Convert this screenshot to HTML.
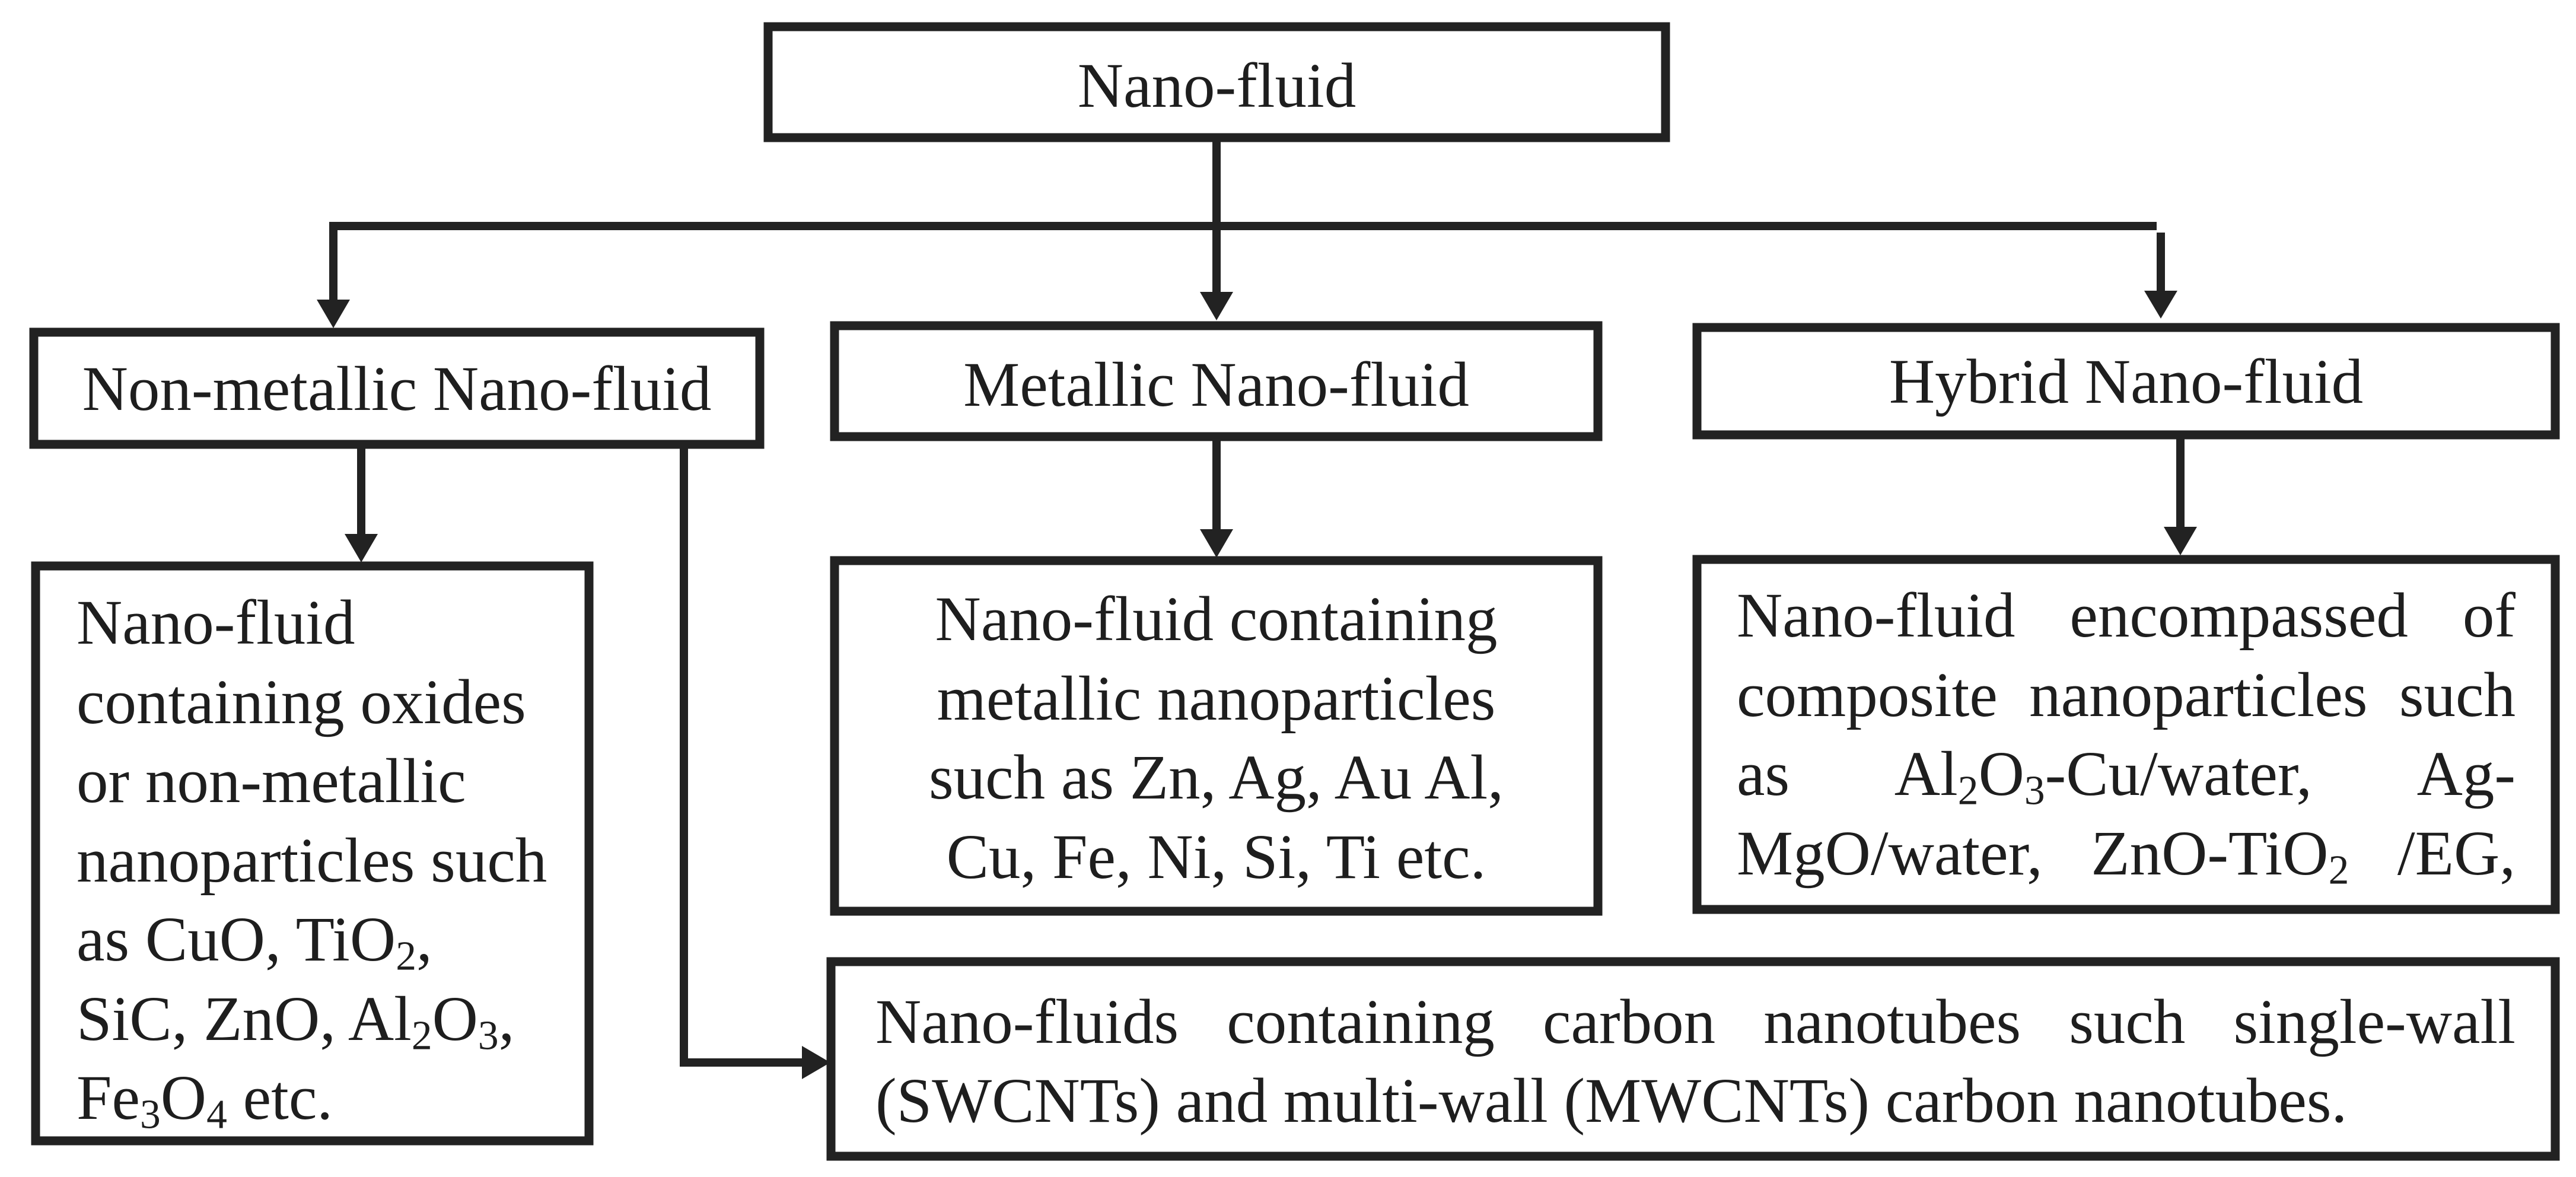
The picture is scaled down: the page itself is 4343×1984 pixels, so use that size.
<!DOCTYPE html>
<html><head><meta charset="utf-8"><style>
html,body{margin:0;padding:0;background:#fff;}
body{width:4343px;height:1984px;position:relative;overflow:hidden;font-family:"Liberation Serif","Times New Roman",serif;color:#1e1e1e;}
svg{position:absolute;left:0;top:0;}
.t{position:absolute;font-size:107px;line-height:133.5px;white-space:nowrap;}
.j{text-align:justify;text-align-last:justify;white-space:normal;}
.c{text-align:center;}
sub{font-size:0.65em;vertical-align:-0.22em;line-height:0;}
</style></head><body>
<svg width="4343" height="1984" viewBox="0 0 4343 1984">
<g fill="none" stroke="#222" stroke-width="15">
<rect x="1295" y="45" width="1513" height="187"/>
<rect x="57" y="560" width="1224" height="189"/>
<rect x="1407" y="549" width="1287" height="187"/>
<rect x="2861" y="552" width="1447" height="181"/>
<rect x="60" y="954" width="933" height="969"/>
<rect x="1407" y="945" width="1287" height="591"/>
<rect x="2861" y="943" width="1447" height="590"/>
<rect x="1401" y="1621" width="2907" height="328"/>
</g>
<g stroke="#222" stroke-width="14" fill="none">
<line x1="2051" y1="232" x2="2051" y2="500"/>
<line x1="555" y1="381" x2="3636" y2="381"/>
<line x1="562" y1="381" x2="562" y2="510"/>
<line x1="3643" y1="392" x2="3643" y2="495"/>
<line x1="609" y1="749" x2="609" y2="905"/>
<line x1="2051" y1="736" x2="2051" y2="900"/>
<line x1="3676" y1="733" x2="3676" y2="895"/>
<polyline points="1153,756 1153,1791 1360,1791"/>
</g>
<g fill="#222">
<polygon points="534,505 590,505 562,553"/>
<polygon points="2023,492 2079,492 2051,540"/>
<polygon points="3615,490 3671,490 3643,537"/>
<polygon points="581,900 637,900 609,948"/>
<polygon points="2023,892 2079,892 2051,940"/>
<polygon points="3648,888 3704,888 3676,936"/>
<polygon points="1352,1763 1352,1819 1400,1791"/>
</g>
</svg>
<div class="t c" style="left:1295px;width:1513px;top:79px;">Nano-fluid</div>
<div class="t c" style="left:57px;width:1224px;top:590px;">Non-metallic Nano-fluid</div>
<div class="t c" style="left:1407px;width:1287px;top:583px;">Metallic Nano-fluid</div>
<div class="t c" style="left:2861px;width:1447px;top:578px;">Hybrid Nano-fluid</div>

<div class="t" style="left:129px;top:984px;">Nano-fluid<br>containing oxides<br>or non-metallic<br>nanoparticles such<br>as CuO, TiO<sub>2</sub>,<br>SiC, ZnO, Al<sub>2</sub>O<sub>3</sub>,<br>Fe<sub>3</sub>O<sub>4</sub> etc.</div>

<div class="t c" style="left:1407px;width:1287px;top:978px;">Nano-fluid containing<br>metallic nanoparticles<br>such as Zn, Ag, Au Al,<br>Cu, Fe, Ni, Si, Ti etc.</div>

<div class="t j" style="left:2928px;width:1313px;top:972px;">Nano-fluid encompassed of</div>
<div class="t j" style="left:2928px;width:1313px;top:1105.5px;">composite nanoparticles such</div>
<div class="t j" style="left:2928px;width:1313px;top:1239px;">as Al<sub>2</sub>O<sub>3</sub>-Cu/water, Ag-</div>
<div class="t j" style="left:2928px;width:1313px;top:1372.5px;">MgO/water, ZnO-TiO<sub>2</sub> /EG,</div>

<div class="t j" style="left:1476px;width:2765px;top:1657px;">Nano-fluids containing carbon nanotubes such single-wall</div>
<div class="t" style="left:1476px;top:1790px;">(SWCNTs) and multi-wall (MWCNTs) carbon nanotubes.</div>
</body></html>
